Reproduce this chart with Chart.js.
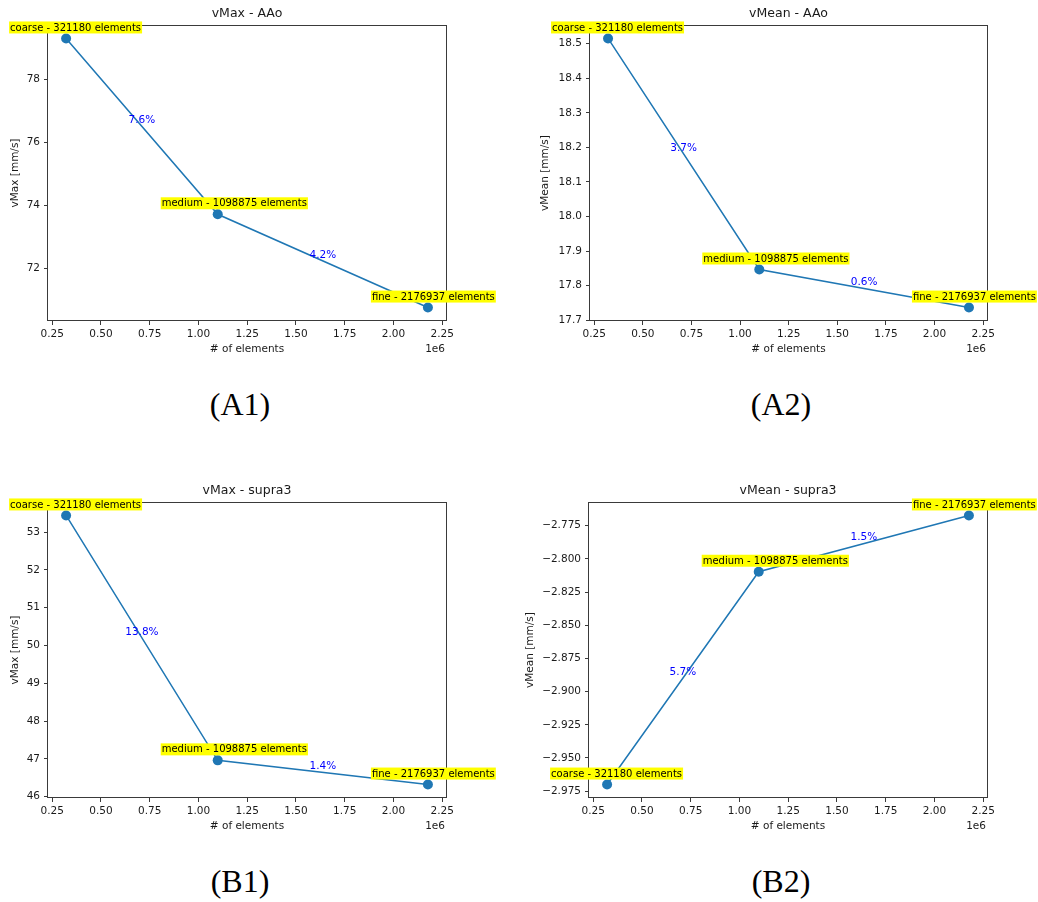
<!DOCTYPE html>
<html>
<head>
<meta charset="utf-8">
<script src="https://cdn.jsdelivr.net/npm/chart.js@4.4.1/dist/chart.umd.min.js"></script>
<style>
  html, body { margin: 0; padding: 0; background: #fff; }
  body { width: 1038px; height: 902px; position: relative; overflow: hidden; }
  canvas { position: absolute; }
  .tag {
    position: absolute;
    font-family: "Liberation Serif", "DejaVu Serif", serif;
    font-size: 32px;
    color: #000;
    transform: translate(-50%, -50%);
    white-space: nowrap;
  }
</style>
</head>
<body>
<canvas id="a1"></canvas>
<canvas id="a2"></canvas>
<canvas id="b1"></canvas>
<canvas id="b2"></canvas>
<div class="tag" style="left:240px;top:404px">(A1)</div>
<div class="tag" style="left:781px;top:404px">(A2)</div>
<div class="tag" style="left:240px;top:881px">(B1)</div>
<div class="tag" style="left:781px;top:881px">(B2)</div>

<script>
// Mesh refinement study: three meshes, four velocity quantities
const meshNames = ['coarse', 'medium', 'fine'];
const elementCounts = [321180, 1098875, 2176937];

const vMaxAAo = [79.30, 73.72, 70.76];
const vMeanAAo = [18.515, 17.847, 17.737];
const vMaxSupra3 = [53.44, 46.96, 46.32];
const vMeanSupra3 = [-2.970, -2.8097, -2.7673];

// relative change between successive meshes, in percent
const pctVMaxAAo = [7.6, 4.2];
const pctVMeanAAo = [3.7, 0.6];
const pctVMaxSupra3 = [13.8, 1.4];
const pctVMeanSupra3 = [5.7, 1.5];

// axis ticks
const xTicks = [250000, 500000, 750000, 1000000, 1250000, 1500000, 1750000, 2000000, 2250000];
const yTicksVMaxAAo = [72, 74, 76, 78];
const yTicksVMeanAAo = [17.7, 17.8, 17.9, 18.0, 18.1, 18.2, 18.3, 18.4, 18.5];
const yTicksVMaxSupra3 = [46, 47, 48, 49, 50, 51, 52, 53];
const yTicksVMeanSupra3 = [-2.975, -2.950, -2.925, -2.900, -2.875, -2.850, -2.825, -2.800, -2.775];

Chart.defaults.font.family = '"DejaVu Sans", sans-serif';
Chart.defaults.font.size = 10.5;
Chart.defaults.color = '#1a1a1a';

const LINE = '#1f77b4';
const FRAME = '#3a3a3a';

// axis limits padded by 5% of the data span on each side
function padded(arr) {
  const lo = Math.min(...arr), hi = Math.max(...arr);
  const m = (hi - lo) * 0.05;
  return [lo - m, hi + m];
}

function fmt(v, dec) {
  return v.toFixed(dec).replace('-', '\u2212');
}

// frame, title, offset text, point labels and percentage labels
const panelDecor = {
  id: 'panelDecor',
  afterDatasetsDraw(chart, args, opts) {
    const { ctx, chartArea: a } = chart;
    const xs = chart.scales.x, ys = chart.scales.y;
    ctx.save();

    // frame around the plotting area
    ctx.strokeStyle = FRAME;
    ctx.lineWidth = 1;
    ctx.strokeRect(Math.round(a.left) - 0.5, Math.round(a.top) + 0.5,
                   Math.round(a.right - a.left) + 1, Math.round(a.bottom - a.top) - 1);

    // title
    ctx.fillStyle = '#1a1a1a';
    ctx.font = '12.5px "DejaVu Sans", sans-serif';
    ctx.textAlign = 'center';
    ctx.textBaseline = 'middle';
    ctx.fillText(opts.title, (a.left + a.right) / 2, a.top - 11.5);

    // x offset multiplier
    ctx.font = '10.5px "DejaVu Sans", sans-serif';
    ctx.textAlign = 'right';
    ctx.fillText('1e6', a.right - 1, a.bottom + 28);

    const pts = elementCounts.map((c, i) => ({
      x: xs.getPixelForValue(c),
      y: ys.getPixelForValue(opts.values[i])
    }));

    // percentage change on each segment
    ctx.fillStyle = '#0000ff';
    ctx.textAlign = 'center';
    ctx.textBaseline = 'middle';
    for (let i = 0; i < opts.pct.length; i++) {
      const mx = (pts[i].x + pts[i + 1].x) / 2;
      const my = (pts[i].y + pts[i + 1].y) / 2;
      ctx.fillText(opts.pct[i].toFixed(1) + '%', mx, my - 6);
    }

    // mesh labels with yellow highlight
    ctx.font = '10px "DejaVu Sans", sans-serif';
    ctx.textAlign = 'left';
    ctx.textBaseline = 'middle';
    pts.forEach((p, i) => {
      const txt = meshNames[i] + ' - ' + elementCounts[i] + ' elements';
      const w = ctx.measureText(txt).width;
      const left = p.x - 56;
      const cy = p.y - 11;
      ctx.fillStyle = '#ffff00';
      ctx.fillRect(left - 1, cy - 6, w + 2, 12);
      ctx.fillStyle = '#000';
      ctx.fillText(txt, left, cy + 0.5);
    });

    ctx.restore();
  }
};

function makePanel(id, cfg) {
  const cv = document.getElementById(id);
  cv.width = cfg.w;
  cv.height = cfg.h;
  cv.style.left = cfg.cx + 'px';
  cv.style.top = cfg.cy + 'px';
  cv.style.width = cfg.w + 'px';
  cv.style.height = cfg.h + 'px';

  const [xmin, xmax] = padded(elementCounts);
  const [ymin, ymax] = padded(cfg.values);

  new Chart(cv, {
    type: 'line',
    data: {
      datasets: [{
        data: elementCounts.map((c, i) => ({ x: c, y: cfg.values[i] })),
        borderColor: LINE,
        backgroundColor: LINE,
        borderWidth: 1.5,
        pointRadius: 5,
        pointBorderWidth: 0,
        pointBackgroundColor: LINE,
        pointHoverRadius: 5,
        tension: 0,
        clip: false
      }]
    },
    options: {
      responsive: false,
      animation: false,
      devicePixelRatio: 1,
      events: [],
      layout: { padding: { left: 0, top: 25, right: cfg.padRight, bottom: 0 } },
      plugins: {
        legend: { display: false },
        title: { display: false },
        tooltip: { enabled: false },
        panelDecor: { title: cfg.title, values: cfg.values, pct: cfg.pct }
      },
      scales: {
        x: {
          type: 'linear',
          min: xmin,
          max: xmax,
          afterBuildTicks: s => { s.ticks = xTicks.map(v => ({ value: v })); },
          afterFit: s => { s.height = 40; },
          ticks: {
            callback: v => (v / 1e6).toFixed(2),
            maxRotation: 0,
            autoSkip: false,
            padding: 3
          },
          grid: { drawOnChartArea: false, drawTicks: true, tickLength: 4, tickColor: FRAME, color: FRAME },
          border: { display: false },
          title: { display: true, text: '# of elements', padding: { top: 0, bottom: 5.5 } }
        },
        y: {
          type: 'linear',
          min: ymin,
          max: ymax,
          afterBuildTicks: s => { s.ticks = cfg.yTicks.map(v => ({ value: v })); },
          afterFit: s => { s.width = cfg.yw; },
          ticks: {
            callback: v => fmt(v, cfg.dec),
            autoSkip: false,
            padding: 4
          },
          grid: { drawOnChartArea: false, drawTicks: true, tickLength: 4, tickColor: FRAME, color: FRAME },
          border: { display: false },
          title: { display: true, text: cfg.yLabel, padding: { top: 2, bottom: 0 } }
        }
      }
    },
    plugins: [panelDecor]
  });
}

makePanel('a1', { cx: 7, cy: 0, w: 500, h: 361, yw: 41, padRight: 61,
  title: 'vMax - AAo', yLabel: 'vMax [mm/s]', values: vMaxAAo, pct: pctVMaxAAo,
  yTicks: yTicksVMaxAAo, dec: 0 });
makePanel('a2', { cx: 537, cy: 0, w: 501, h: 361, yw: 53, padRight: 51,
  title: 'vMean - AAo', yLabel: 'vMean [mm/s]', values: vMeanAAo, pct: pctVMeanAAo,
  yTicks: yTicksVMeanAAo, dec: 1 });
makePanel('b1', { cx: 7, cy: 477, w: 500, h: 361, yw: 41, padRight: 61,
  title: 'vMax - supra3', yLabel: 'vMax [mm/s]', values: vMaxSupra3, pct: pctVMaxSupra3,
  yTicks: yTicksVMaxSupra3, dec: 0 });
makePanel('b2', { cx: 522, cy: 477, w: 516, h: 361, yw: 67, padRight: 51,
  title: 'vMean - supra3', yLabel: 'vMean [mm/s]', values: vMeanSupra3, pct: pctVMeanSupra3,
  yTicks: yTicksVMeanSupra3, dec: 3 });
</script>
</body>
</html>
